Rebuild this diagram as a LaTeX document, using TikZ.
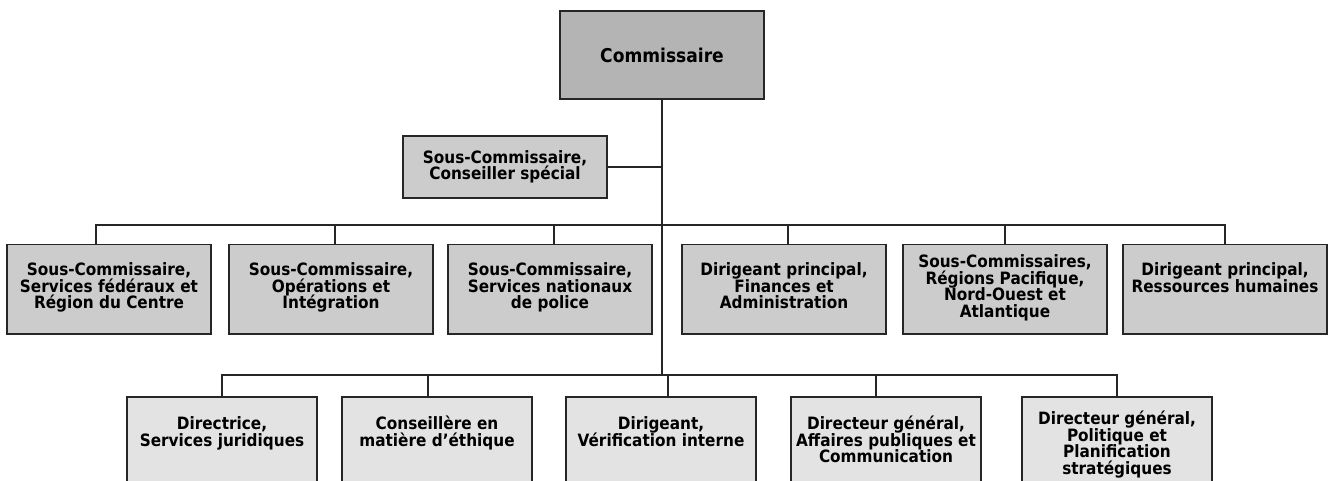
\documentclass[tikz,border=0pt]{standalone}
\usepackage{fontspec}
\usepackage{xcolor}
\usepackage{tikz}
\usetikzlibrary{positioning}
\newfontfamily\orgfont{DejaVu Sans}[FakeStretch=0.9]
\definecolor{chiefgray}{HTML}{B4B4B4}
\definecolor{deputygray}{HTML}{CCCCCC}
\definecolor{staffgray}{HTML}{E3E3E3}
% centred lines, first baseline on top, fixed line pitch
\newcommand{\boxtext}[1]{\vtop{\lineskiplimit=-\maxdimen\let\\\cr
    \halign{\hfil##\hfil\cr#1\crcr}}}
\tikzset{
    unit/.style={ % Common look of every box
        draw=black!85,
        line width=1.5pt,
        inner sep=0pt,
        font=\orgfont\bfseries\fontsize{17}{16.6}\selectfont
    },
    chief/.style={unit, fill=chiefgray, minimum width=204pt, minimum height=88pt,
        font=\orgfont\bfseries\fontsize{19}{19}\selectfont},
    adviser/.style={unit, fill=deputygray, minimum width=204pt, minimum height=62pt},
    deputy/.style={unit, fill=deputygray, minimum width=204pt, anchor=north,
        text height=31pt, text depth=58pt}, % First line sits near the top
    staff/.style={unit, fill=staffgray, minimum width=190pt, anchor=north,
        text height=33pt, text depth=100pt},
    link/.style={draw=black!85, line width=1.4pt}
}

\begin{document}
\begin{tikzpicture}[x=1pt, y=-1pt]
            \clip (0,0) rectangle (1328,481);
            \node[chief] (comm) at (662,55) {Commissaire};
            \node[adviser] (adv) at (505,167) {\boxtext{Sous-Commissaire,\\Conseiller spécial}};

            \node[deputy] (d1) at (109,244) {\boxtext{Sous-Commissaire,\\Services fédéraux et\\Région du Centre}};
            \node[deputy] (d2) at (331,244) {\boxtext{Sous-Commissaire,\\Opérations et\\Intégration}};
            \node[deputy] (d3) at (550,244) {\boxtext{Sous-Commissaire,\\Services nationaux\\de police}};
            \node[deputy] (d4) at (784,244) {\boxtext{Dirigeant principal,\\Finances et\\Administration}};
            \node[deputy, text height=23pt, text depth=66pt] (d5) at (1005,244) {\boxtext{Sous-Commissaires,\\Régions Pacifique,\\Nord-Ouest et\\Atlantique}};
            \node[deputy] (d6) at (1225,244) {\boxtext{Dirigeant principal,\\Ressources humaines}};

            \node[staff] (s1) at (222,396) {\boxtext{Directrice,\\Services juridiques}};
            \node[staff] (s2) at (437,396) {\boxtext{Conseillère en\\matière d’éthique}};
            \node[staff] (s3) at (661,396) {\boxtext{Dirigeant,\\Vérification interne}};
            \node[staff] (s4) at (886,396) {\boxtext{Directeur général,\\Affaires publiques et\\Communication}};
            \node[staff, text height=28pt, text depth=105pt] (s5) at (1117,396) {\boxtext{Directeur général,\\Politique et\\Planification\\stratégiques}};

            \coordinate (hub2) at (662,225);
            \coordinate (hub3) at (662,375);

            \draw[link] (comm.south) -- (hub3);
            \draw[link] (adv.east) -- (adv.east -| comm.south);
            \foreach \n/\dx in {d1/-13,d2/4,d3/4,d4/4,d5/0,d6/0}
                \draw[link] ([xshift=\dx pt]\n.north) |- (hub2);
            \foreach \n/\dx in {s1/0,s2/-9,s3/7,s4/-10,s5/0}
                \draw[link] ([xshift=\dx pt]\n.north) |- (hub3);
        \end{tikzpicture}
\end{document}
